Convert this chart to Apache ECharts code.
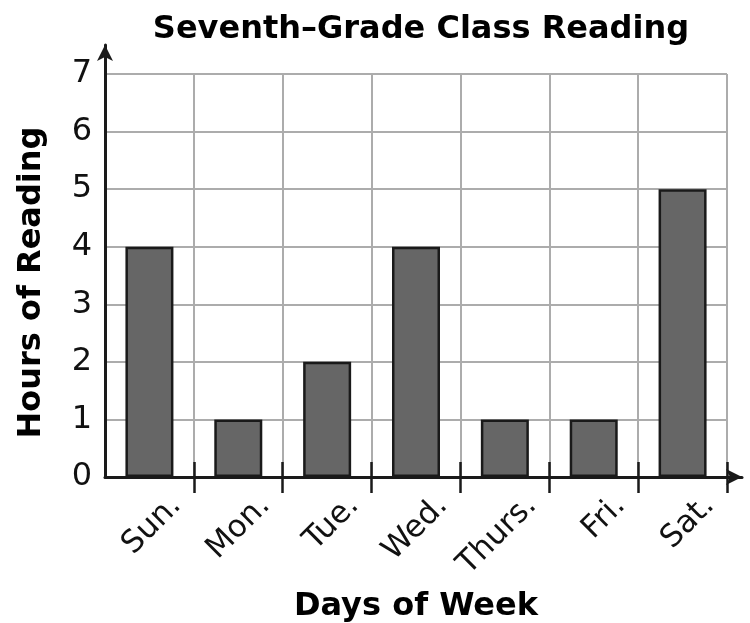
<!DOCTYPE html>
<html>
<head>
<meta charset="utf-8">
<script src="https://cdn.jsdelivr.net/npm/echarts@6/dist/echarts.min.js"></script>
<style>
  html, body { margin: 0; padding: 0; background: #fff; }
  #chart { width: 750px; height: 623px; }
</style>
</head>
<body>
<div id="chart"></div>
<script>
// data
const days = ['Sun.', 'Mon.', 'Tue.', 'Wed.', 'Thurs.', 'Fri.', 'Sat.']
const hours = [4, 1, 2, 4, 1, 1, 5]
const yMin = 0
const yMax = 7
const yStep = 1

const font = 'DejaVu Sans'
const ink = '#1a1a1a'
const gridGray = '#acacac'

// skip the tick that would sit on the y axis
const skipFirst = (i) => i > 0

const chart = echarts.init(document.getElementById('chart'))
chart.setOption({
  animation: false,
  title: {
    text: 'Seventh–Grade Class Reading',
    left: 416,
    top: 9,
    textAlign: 'center',
    textStyle: { fontFamily: font, fontSize: 32, fontWeight: 'bold', color: '#000' }
  },
  grid: [
    { left: 105, right: 23, top: 74, bottom: 146, outerBoundsMode: 'none' },
    // only carries the two arrowed axis lines
    { left: 105, right: 8, top: 45, bottom: 146, outerBoundsMode: 'none' }
  ],
  xAxis: [
    {
      type: 'category',
      gridIndex: 0,
      position: 'bottom',
      data: days,
      name: 'Days of Week',
      nameLocation: 'middle',
      nameGap: 114,
      nameMoveOverlap: false,
      nameTextStyle: { fontFamily: font, fontSize: 32, fontWeight: 'bold', color: '#000' },
      axisLine: { show: false },
      axisTick: { show: true, length: 16, interval: skipFirst, lineStyle: { color: ink, width: 2.5 } },
      axisLabel: {
        interval: 0,
        rotate: 45,
        margin: -3,
        verticalAlign: 'top',
        lineHeight: 76,
        fontFamily: font,
        fontSize: 31,
        color: '#111'
      },
      splitLine: { show: true, interval: 0, lineStyle: { color: gridGray, width: 2 } }
    },
    {
      // ticks poking up above the axis
      type: 'category',
      gridIndex: 0,
      position: 'bottom',
      data: days,
      axisLine: { show: false },
      axisTick: { show: true, inside: true, length: 15, interval: skipFirst, lineStyle: { color: ink, width: 2.5 } },
      axisLabel: { show: false },
      splitLine: { show: false }
    },
    {
      type: 'value',
      gridIndex: 1,
      min: 0,
      max: 1,
      axisLine: { show: true, symbol: ['none', 'arrow'], symbolSize: [12, 16], lineStyle: { color: ink, width: 3 } },
      axisTick: { show: false },
      axisLabel: { show: false },
      splitLine: { show: false }
    }
  ],
  yAxis: [
    {
      type: 'value',
      gridIndex: 0,
      min: yMin,
      max: yMax,
      interval: yStep,
      name: 'Hours of Reading',
      nameLocation: 'middle',
      nameGap: 57,
      nameTextStyle: { fontFamily: font, fontSize: 32, fontWeight: 'bold', color: '#000', padding: [0, 14, 0, 0] },
      axisLine: { show: false },
      axisTick: { show: false },
      axisLabel: { margin: 13, fontFamily: font, fontSize: 32, color: '#111' },
      splitLine: { show: true, lineStyle: { color: gridGray, width: 2 } }
    },
    {
      type: 'value',
      gridIndex: 1,
      min: 0,
      max: 1,
      axisLine: { show: true, symbol: ['none', 'arrow'], symbolSize: [12, 16], lineStyle: { color: ink, width: 3 } },
      axisTick: { show: false },
      axisLabel: { show: false },
      splitLine: { show: false }
    }
  ],
  series: [
    {
      type: 'bar',
      xAxisIndex: 0,
      yAxisIndex: 0,
      data: hours,
      barWidth: 48,
      itemStyle: { color: '#666666', borderColor: ink, borderWidth: 2.5 }
    }
  ]
})
</script>
</body>
</html>
